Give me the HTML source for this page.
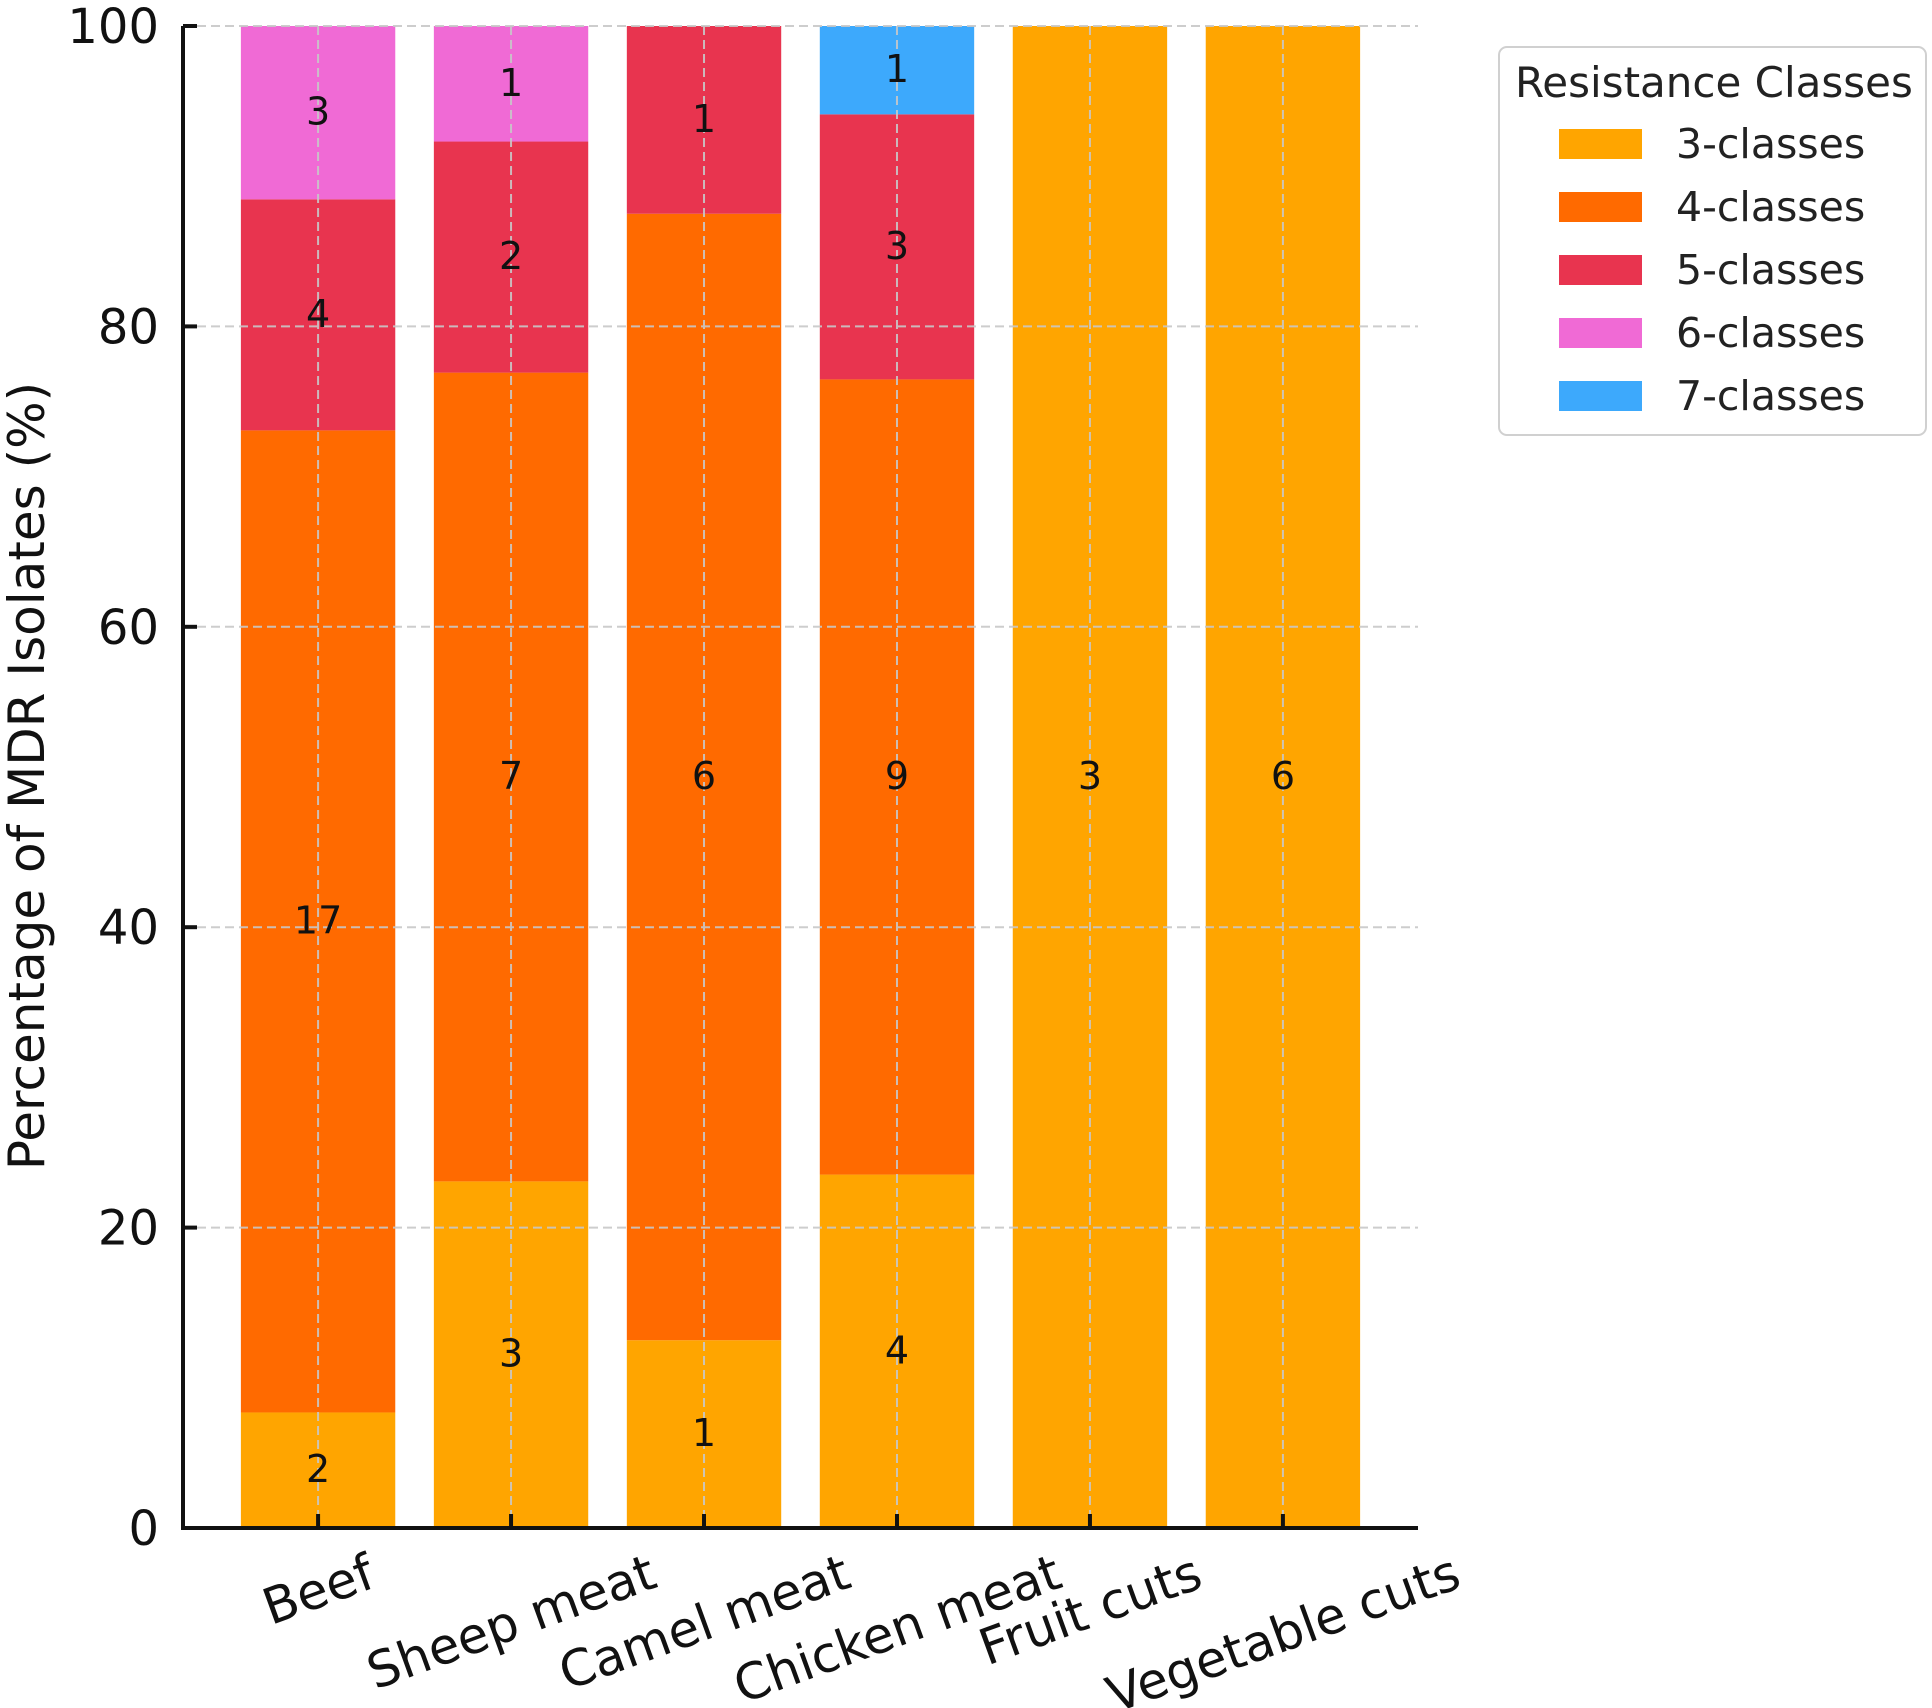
<!DOCTYPE html>
<html><head><meta charset="utf-8"><style>
body{margin:0;background:#fff}
svg{display:block;font-family:"DejaVu Sans","Liberation Sans",sans-serif}
</style></head><body>
<svg id="chart" width="1932" height="1708" viewBox="0 0 1932 1708"></svg>
<script>
const categories = ["Beef","Sheep meat","Camel meat","Chicken meat","Fruit cuts","Vegetable cuts"];
const seriesNames = ["3-classes","4-classes","5-classes","6-classes","7-classes"];
const c3 = [2,3,1,4,3,6];
const c4 = [17,7,6,9,0,0];
const c5 = [4,2,1,3,0,0];
const c6 = [3,1,0,0,0,0];
const c7 = [0,0,0,1,0,0];
const yTicks = [0,20,40,60,80,100];
const colors = ["#FFA500","#FF6A00","#E8344F","#F06AD5","#3DA9FC"];

const NS="http://www.w3.org/2000/svg";
const svg=document.getElementById('chart');
function mk(t,a,p){const e=document.createElementNS(NS,t);for(const k in a)e.setAttribute(k,a[k]);(p||svg).appendChild(e);return e;}
const L=183,R=1418,T=26,B=1528;
const xMin=-0.7,xMax=5.7;
const x=v=>L+(v-xMin)/(xMax-xMin)*(R-L);
const y=v=>B-v/100*(B-T);
const bw=(x(0.4)-x(-0.4));
const series=[c3,c4,c5,c6,c7];

const gBars=mk('g',{});


categories.forEach((c,i)=>{
  const tot=series.reduce((s,a)=>s+a[i],0);
  let acc=0;
  series.forEach((arr,si)=>{
    const v=arr[i]; if(!v) return;
    const p0=acc/tot*100, p1=(acc+v)/tot*100; acc+=v;
    const r=mk('rect',{x:x(i)-bw/2,y:y(p1),width:bw,height:y(p0)-y(p1),fill:colors[si]},gBars);
    
    
  });
});
const gGrid=mk('g',{stroke:"#c8c8c8","stroke-width":2,"stroke-dasharray":"9,5",opacity:0.9});


yTicks.forEach(t=>{mk('line',{x1:L,x2:R,y1:y(t),y2:y(t)},gGrid);});
categories.forEach((c,i)=>{mk('line',{x1:x(i),x2:x(i),y1:T,y2:B},gGrid);});
categories.forEach((c,i)=>{
  const tot=series.reduce((s,a)=>s+a[i],0);
  let acc=0;
  series.forEach((arr,si)=>{
    const v=arr[i]; if(!v) return;
    const mid=(acc+v/2)/tot*100; acc+=v;
    const t=mk('text',{x:x(i),y:y(mid)+12,"text-anchor":"middle","font-size":38,fill:"#111"});
    t.textContent=v;
    
    
  });
});
const ax=mk('g',{stroke:"#111","stroke-width":4,fill:"none"});


mk('path',{d:`M${L},${T} L${L},${B} L${R},${B}`},ax);
yTicks.forEach(t=>{
  mk('line',{x1:L,x2:L+14,y1:y(t),y2:y(t),stroke:"#111","stroke-width":4});
  const tx=mk('text',{x:L-24,y:y(t)+17,"text-anchor":"end","font-size":48,fill:"#111"});
  tx.textContent=t;
  
  
});
const ang=20*Math.PI/180;
categories.forEach((c,i)=>{
  mk('line',{x1:x(i),x2:x(i),y1:B-14,y2:B,stroke:"#111","stroke-width":4});
  const tx=mk('text',{x:x(i),y:0,"text-anchor":"middle","font-size":50,fill:"#111"});
  tx.textContent=c;
  
  
  const w=tx.getComputedTextLength(), h=50;
  const bh=w*Math.sin(ang)+h*Math.cos(ang);
  const cy=1546+bh/2;
  tx.setAttribute('y',cy+h*0.36);
  tx.setAttribute('transform',`rotate(-20 ${x(i)} ${cy})`);
});
const yt=mk('text',{x:44,y:776,"text-anchor":"middle","font-size":50,fill:"#111",transform:"rotate(-90 44 776)"});
yt.textContent="Percentage of MDR Isolates (%)";


const lg=mk('g',{});


mk('rect',{x:1499,y:47,width:427,height:388,rx:8,fill:"#fff",stroke:"#d0d0d0","stroke-width":2},lg);
const lt=mk('text',{x:1515,y:97,"font-size":42,fill:"#222"},lg);
lt.textContent="Resistance Classes";


seriesNames.forEach((n,i)=>{
  const yy=144+i*63;
  const e=mk('g',{},lg);
  
  
  mk('rect',{x:1559,y:yy-15,width:83,height:30,fill:colors[i]},e);
  const t=mk('text',{x:1676,y:yy+14,"font-size":41,fill:"#222"},e);
  t.textContent=n;
});
</script>
</body></html>
